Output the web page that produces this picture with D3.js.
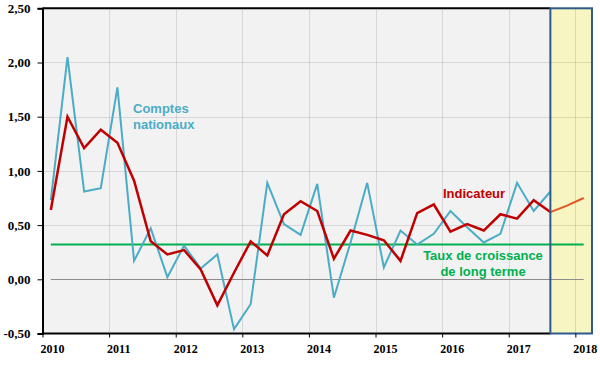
<!DOCTYPE html>
<html>
<head>
<meta charset="utf-8">
<script src="https://cdn.jsdelivr.net/npm/d3@7/dist/d3.min.js"></script>
<style>
  html, body { margin: 0; padding: 0; background: #ffffff; }
  svg { display: block; }
</style>
</head>
<body>
<svg id="chart" width="600" height="370"></svg>
<script>
// ---- data ----
const quarters = [
  "2010T1","2010T2","2010T3","2010T4",
  "2011T1","2011T2","2011T3","2011T4",
  "2012T1","2012T2","2012T3","2012T4",
  "2013T1","2013T2","2013T3","2013T4",
  "2014T1","2014T2","2014T3","2014T4",
  "2015T1","2015T2","2015T3","2015T4",
  "2016T1","2016T2","2016T3","2016T4",
  "2017T1","2017T2","2017T3","2017T4",
  "2018T1"
];
const comptesNationaux = [
  0.73, 2.05, 0.81, 0.84,
  1.77, 0.17, 0.47, 0.02,
  0.31, 0.10, 0.23, -0.46,
  -0.23, 0.89, 0.51, 0.41,
  0.88, -0.17, 0.34, 0.89,
  0.11, 0.45, 0.32, 0.42,
  0.63, 0.48, 0.34, 0.42,
  0.89, 0.63, 0.81
];
const indicateur = [
  0.64, 1.50, 1.21, 1.38,
  1.26, 0.91, 0.35, 0.23,
  0.27, 0.09, -0.24, 0.06,
  0.35, 0.22, 0.60, 0.72,
  0.63, 0.19, 0.45, 0.41,
  0.36, 0.17, 0.61, 0.69,
  0.44, 0.51, 0.45, 0.60,
  0.56, 0.73, 0.62, 0.68,
  0.75
];
const forecastStart = 30;          // index of 2017T3: prévision afterwards
const tauxLongTerme = 0.32;
const yTicks = [-0.5, 0, 0.5, 1.0, 1.5, 2.0, 2.5];
const yearTicks = [2010, 2011, 2012, 2013, 2014, 2015, 2016, 2017, 2018];

(function () {
// ---- layout ----
const svg = d3.select("#chart");
const pL = 42.5, pR = 592, pT = 8.3, pB = 333.5;

const x = d3.scaleLinear().domain([2010, 2018.25]).range([pL, pR]);
const y = d3.scaleLinear().domain([-0.5, 2.5]).range([pB, pT]);
const qPos = i => 2010 + (i + 0.5) / 4;   // mid-quarter position

const fmt = v => d3.format(".2f")(v).replace(".", ",").replace("−", "-");

// plot background
svg.append("rect")
  .attr("x", pL).attr("y", pT)
  .attr("width", x(qPos(forecastStart)) - pL)
  .attr("height", pB - pT)
  .attr("fill", "#f2f2f2");

// forecast shaded zone (fill)
const zx0 = x(qPos(forecastStart)), zx1 = x(2018.25);
svg.append("rect")
  .attr("x", zx0).attr("y", pT)
  .attr("width", zx1 - zx0).attr("height", pB - pT)
  .attr("fill", "#f7f5c1");

// gridlines
const grid = svg.append("g").attr("stroke", "#000").attr("stroke-opacity", 0.11).attr("stroke-width", 1);
yTicks.filter(v => v !== 0 && v !== -0.5 && v !== 2.5).forEach(v => {
  grid.append("line")
    .attr("x1", pL).attr("x2", pR)
    .attr("y1", Math.round(y(v)) + 0.5).attr("y2", Math.round(y(v)) + 0.5);
});
yearTicks.filter(v => v > 2010).forEach(v => {
  grid.append("line")
    .attr("x1", Math.round(x(v)) + 0.5).attr("x2", Math.round(x(v)) + 0.5)
    .attr("y1", pT).attr("y2", pB);
});

// zero line
svg.append("line")
  .attr("x1", x(qPos(0))).attr("x2", x(qPos(quarters.length - 1)))
  .attr("y1", Math.round(y(0)) + 0.5).attr("y2", Math.round(y(0)) + 0.5)
  .attr("stroke", "#8c8c8c").attr("stroke-width", 1);

// long-term growth rate
svg.append("line")
  .attr("x1", x(qPos(0))).attr("x2", x(qPos(quarters.length - 1)))
  .attr("y1", y(tauxLongTerme)).attr("y2", y(tauxLongTerme))
  .attr("stroke", "#00b050").attr("stroke-width", 2);

const line = d3.line().x(d => x(qPos(d.i))).y(d => y(d.v));

// comptes nationaux
svg.append("path")
  .datum(comptesNationaux.map((v, i) => ({ i, v })))
  .attr("d", line)
  .attr("fill", "none")
  .attr("stroke", "#4bacc6")
  .attr("stroke-width", 2)
  .attr("stroke-linejoin", "miter");

// indicateur (observed part)
const ind = indicateur.map((v, i) => ({ i, v }));
svg.append("path")
  .datum(ind.slice(0, forecastStart + 1))
  .attr("d", line)
  .attr("fill", "none")
  .attr("stroke", "#c00000")
  .attr("stroke-width", 2.5)
  .attr("stroke-linejoin", "miter");

// indicateur (forecast part)
svg.append("path")
  .datum(ind.slice(forecastStart))
  .attr("d", line)
  .attr("fill", "none")
  .attr("stroke", "#e2562a")
  .attr("stroke-width", 2);

// frame: top, bottom black lines
svg.append("line")
  .attr("x1", pL).attr("x2", zx0).attr("y1", pT).attr("y2", pT)
  .attr("stroke", "#000").attr("stroke-width", 2);
svg.append("line")
  .attr("x1", pL).attr("x2", zx0).attr("y1", pB).attr("y2", pB)
  .attr("stroke", "#000").attr("stroke-width", 2);

// forecast zone border
svg.append("rect")
  .attr("x", zx0).attr("y", pT)
  .attr("width", zx1 - zx0).attr("height", pB - pT)
  .attr("fill", "none")
  .attr("stroke", "#2e5a8e").attr("stroke-width", 2);

// y axis
const yAxis = d3.axisLeft(y).tickValues(yTicks).tickSize(5).tickPadding(7).tickFormat(fmt);
const gy = svg.append("g").attr("transform", `translate(${pL},0)`).call(yAxis);
gy.select(".domain").attr("stroke", "#000").attr("stroke-width", 2);
gy.selectAll(".tick line").attr("stroke", "#000").attr("stroke-width", 1);
gy.selectAll(".tick text")
  .attr("font-family", "'Liberation Serif', 'Times New Roman', serif")
  .attr("font-weight", "bold").attr("font-size", 13).attr("fill", "#000");

// x axis
const xAxis = d3.axisBottom(x).tickValues(yearTicks).tickSize(4).tickFormat(d3.format("d"));
const gx = svg.append("g").attr("transform", `translate(0,${pB})`).call(xAxis);
gx.select(".domain").remove();
gx.selectAll(".tick line").attr("stroke", "#000").attr("stroke-width", 1);
gx.selectAll(".tick text")
  .attr("text-anchor", "start")
  .attr("x", -2.5)
  .attr("y", 11)
  .attr("font-family", "'Liberation Serif', 'Times New Roman', serif")
  .attr("font-weight", "bold").attr("font-size", 12).attr("fill", "#000");

// annotations
const ann = svg.append("g")
  .attr("font-family", "'Liberation Sans', Arial, sans-serif")
  .attr("font-weight", "bold").attr("font-size", 13);
ann.append("text").attr("x", 133).attr("y", 112.5).attr("fill", "#4bacc6").text("Comptes");
ann.append("text").attr("x", 133).attr("y", 128.5).attr("fill", "#4bacc6").text("nationaux");
ann.append("text").attr("x", 443).attr("y", 197.5).attr("fill", "#c00000").text("Indicateur");
ann.append("text").attr("x", 483).attr("y", 260).attr("text-anchor", "middle").attr("fill", "#00b050").text("Taux de croissance");
ann.append("text").attr("x", 483).attr("y", 275.5).attr("text-anchor", "middle").attr("fill", "#00b050").text("de long terme");
})();
</script>
</body>
</html>
